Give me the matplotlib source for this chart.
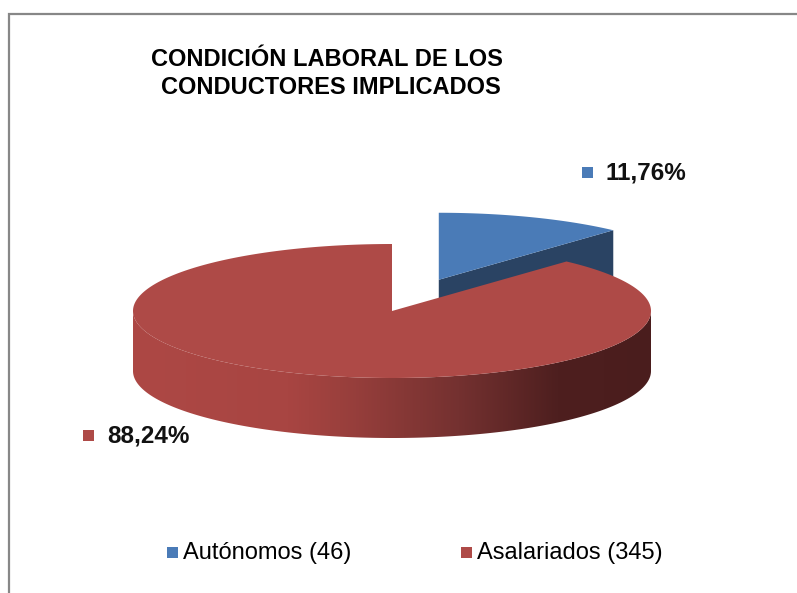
import numpy as np
import matplotlib
matplotlib.use("Agg")
import matplotlib.pyplot as plt
from matplotlib.patches import Polygon, Rectangle
from matplotlib.colors import LinearSegmentedColormap

# chart data
labels = ["Autónomos", "Asalariados"]
counts = [46, 345]
explode = [0.5, 0.0]

title_lines = ["CONDICIÓN LABORAL DE LOS", "CONDUCTORES IMPLICADOS"]

top_colors = ["#4A7BB7", "#AE4A47"]
side_colors = ["#2A4363", "#4D1F1F"]
side_ramp = [
    (0.00, "#AD4845"), (0.30, "#A84542"), (0.40, "#9B403D"),
    (0.63, "#743130"), (0.82, "#4E1F1F"), (1.00, "#4A1D1D"),
]

# projected pie geometry (pixels, y downward)
cx, cy = 392, 311
a, b = 259, 67
depth = 60

fig = plt.figure(figsize=(7.97, 5.93), dpi=100)
ax = fig.add_axes([0, 0, 1, 1])
ax.set_xlim(0, 797)
ax.set_ylim(593, 0)
ax.axis("off")

# chart frame (only top and left edges fall inside the picture)
ax.plot([9, 9, 797], [593, 14, 14], color="#878787", lw=1.6,
        solid_joinstyle="miter", zorder=1)


def pt(theta, r, ox, oy, z=0.0):
    t = np.radians(theta)
    return cx + ox + r * a * np.cos(t), cy + oy - r * b * np.sin(t) + z


total = float(sum(counts))
fracs = [c / total for c in counts]
cum = np.concatenate([[0], np.cumsum(fracs)])

slices = []
for i, f in enumerate(fracs):
    th1 = 90 - cum[i] * 360      # start (clockwise)
    th2 = 90 - cum[i + 1] * 360  # end
    mid = np.radians((th1 + th2) / 2)
    ox = explode[i] * a * np.cos(mid)
    oy = -explode[i] * b * np.sin(mid)
    slices.append((th1, th2, ox, oy))

cmap = LinearSegmentedColormap.from_list("side", side_ramp)

# side walls first
for i, (th1, th2, ox, oy) in enumerate(slices):
    # radial faces
    for th, visible in ((th1, np.cos(np.radians(th1)) < -1e-9),
                        (th2, np.cos(np.radians(th2)) > 1e-9)):
        if visible:
            c0 = pt(0, 0, ox, oy)
            r0 = pt(th, 1, ox, oy)
            poly = [c0, r0, (r0[0], r0[1] + depth), (c0[0], c0[1] + depth)]
            ax.add_patch(Polygon(poly, closed=True, fc=side_colors[i],
                                 ec="none", zorder=2))
    # curved outer wall, front half only
    angs = list(np.linspace(th2, th1, 720))
    k = np.ceil(th2 / 180)
    while k * 180 <= th1:
        angs.append(k * 180)
        k += 1
    angs = np.array(sorted(set(angs)))
    front = np.sin(np.radians(angs)) <= 1e-9
    runs, cur = [], []
    for ang, ok in zip(angs, front):
        if ok:
            cur.append(ang)
        elif cur:
            runs.append(cur)
            cur = []
    if cur:
        runs.append(cur)
    for run in runs:
        if len(run) < 2:
            continue
        upper = [pt(t, 1, ox, oy) for t in run]
        lower = [pt(t, 1, ox, oy, depth) for t in run[::-1]]
        poly = Polygon(upper + lower, closed=True, fc="none", ec="none")
        ax.add_patch(poly)
        xs = [p[0] for p in upper]
        x0, x1 = min(xs), max(xs)
        ys = [p[1] for p in upper + lower]
        grad = np.linspace(0, 1, 256).reshape(1, -1)
        im = ax.imshow(grad, cmap=cmap, aspect="auto",
                       extent=(x0, x1, max(ys), min(ys)), zorder=2,
                       interpolation="bilinear")
        im.set_clip_path(poly)

# top faces
for i, (th1, th2, ox, oy) in enumerate(slices):
    arc = [pt(t, 1, ox, oy) for t in np.linspace(th1, th2, 720)]
    poly = [pt(0, 0, ox, oy)] + arc
    ax.add_patch(Polygon(poly, closed=True, fc=top_colors[i], ec="none",
                         zorder=3))

# title
font = "Liberation Sans"
ax.text(151, 60, title_lines[0], fontsize=17, fontweight="bold",
        family=font, ha="left", va="center", color="black")
ax.text(161, 88, title_lines[1], fontsize=17, fontweight="bold",
        family=font, ha="left", va="center", color="black")

# data labels
label_pos = [(582, 167), (83, 430)]
for i, (lx, ly) in enumerate(label_pos):
    pct = f"{counts[i] / total * 100:.2f}".replace(".", ",") + "%"
    ax.add_patch(Rectangle((lx, ly), 11, 11, fc=top_colors[i], ec="none"))
    ax.text(lx + 24, ly + 6, pct, fontsize=17.5, fontweight="bold",
            family=font, ha="left", va="center", color="#111111")

# legend
legend_pos = [(167, 547), (461, 547)]
for i, (lx, ly) in enumerate(legend_pos):
    ax.add_patch(Rectangle((lx, ly), 11, 11, fc=top_colors[i], ec="none"))
    ax.text(lx + 16, ly + 6, f"{labels[i]} ({counts[i]})", fontsize=17,
            family=font, ha="left", va="center", color="black")

fig.savefig("out.png", dpi=100)
